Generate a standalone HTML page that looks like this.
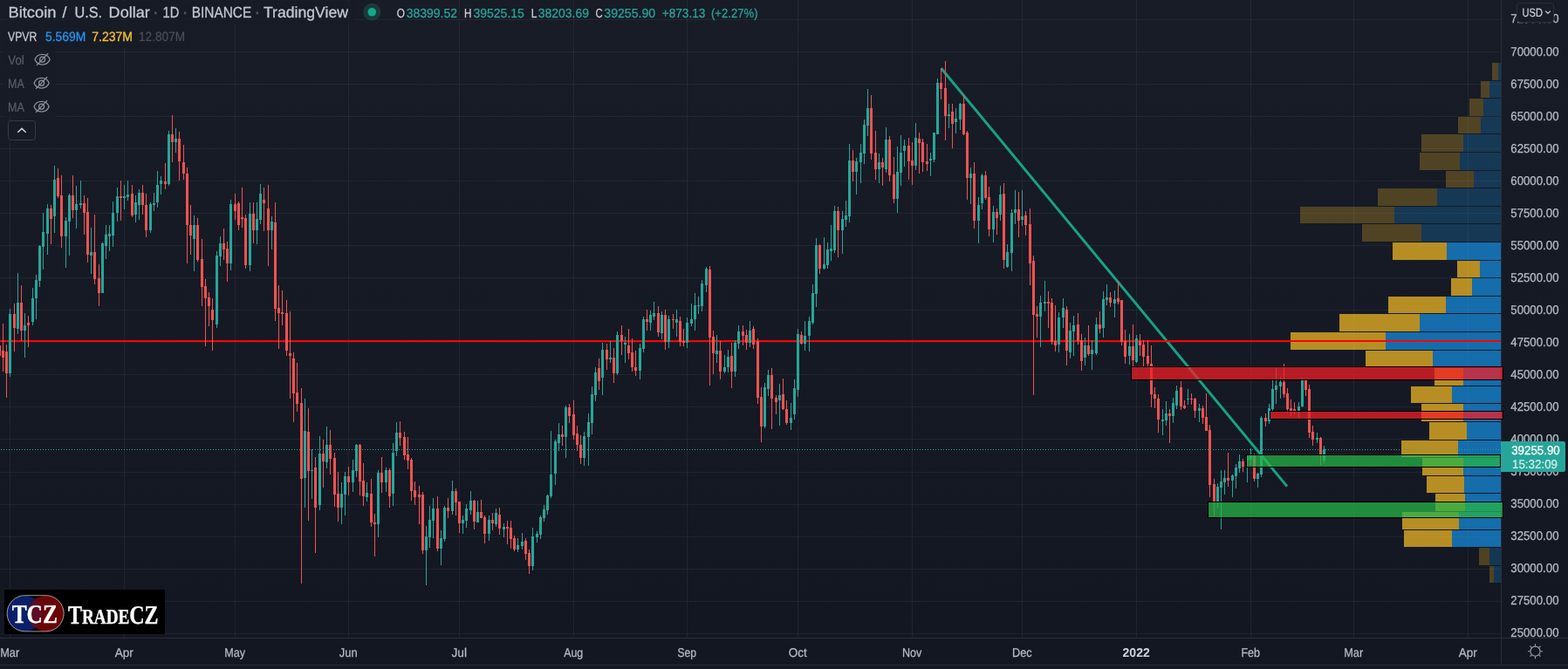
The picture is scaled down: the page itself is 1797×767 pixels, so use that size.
<!DOCTYPE html>
<html lang="en"><head><meta charset="utf-8"><title>Bitcoin / U.S. Dollar · 1D · BINANCE · TradingView</title>
<style>
html,body{margin:0;padding:0;background:#131722;overflow:hidden}
body{width:1797px;height:767px;font-family:"Liberation Sans",sans-serif}
svg{display:block}
</style></head><body>
<svg width="1797" height="767" viewBox="0 0 1797 767" shape-rendering="crispEdges" text-rendering="geometricPrecision">
<defs><linearGradient id="bgg" x1="0" y1="0" x2="0" y2="1"><stop offset="0" stop-color="#181c27"/><stop offset="1" stop-color="#131722"/></linearGradient></defs>
<rect width="1797" height="767" fill="#131722"/>
<rect width="1797" height="732" fill="url(#bgg)"/>
<g fill="#f0f3fa" fill-opacity="0.06"><rect x="11" y="0" width="1" height="731"/><rect x="142" y="0" width="1" height="731"/><rect x="269" y="0" width="1" height="731"/><rect x="399" y="0" width="1" height="731"/><rect x="526" y="0" width="1" height="731"/><rect x="657" y="0" width="1" height="731"/><rect x="787" y="0" width="1" height="731"/><rect x="914" y="0" width="1" height="731"/><rect x="1045" y="0" width="1" height="731"/><rect x="1171" y="0" width="1" height="731"/><rect x="1302" y="0" width="1" height="731"/><rect x="1433" y="0" width="1" height="731"/><rect x="1551" y="0" width="1" height="731"/><rect x="1682" y="0" width="1" height="731"/><rect x="0" y="22" width="1720" height="1"/><rect x="0" y="59" width="1720" height="1"/><rect x="0" y="96" width="1720" height="1"/><rect x="0" y="133" width="1720" height="1"/><rect x="0" y="170" width="1720" height="1"/><rect x="0" y="207" width="1720" height="1"/><rect x="0" y="244" width="1720" height="1"/><rect x="0" y="281" width="1720" height="1"/><rect x="0" y="318" width="1720" height="1"/><rect x="0" y="355" width="1720" height="1"/><rect x="0" y="392" width="1720" height="1"/><rect x="0" y="429" width="1720" height="1"/><rect x="0" y="466" width="1720" height="1"/><rect x="0" y="503" width="1720" height="1"/><rect x="0" y="541" width="1720" height="1"/><rect x="0" y="578" width="1720" height="1"/><rect x="0" y="615" width="1720" height="1"/><rect x="0" y="652" width="1720" height="1"/><rect x="0" y="689" width="1720" height="1"/><rect x="0" y="726" width="1720" height="1"/></g>
<path fill="#fbc123" fill-opacity="0.25" d="M1710 72h7v20h-7zM1697 93h10v19h-10zM1684 113h16v20h-16zM1671 134h26v19h-26zM1629 154h48v20h-48zM1627 175h46v20h-46zM1657 196h32v19h-32zM1579 216h68v20h-68zM1490 237h108v19h-108zM1561 257h68v20h-68zM1695 628h12v20h-12zM1707 649h5v19h-5z"/><path fill="#1592e6" fill-opacity="0.25" d="M1717 72h3v20h-3zM1707 93h13v19h-13zM1700 113h20v20h-20zM1697 134h23v19h-23zM1677 154h43v20h-43zM1673 175h47v20h-47zM1689 196h31v19h-31zM1647 216h73v20h-73zM1598 237h122v19h-122zM1629 257h91v20h-91zM1707 628h13v20h-13zM1712 649h8v19h-8z"/><path fill="#fbc123" fill-opacity="0.7" d="M1596 278h62v20h-62zM1670 299h26v19h-26zM1663 319h24v20h-24zM1591 340h66v19h-66zM1535 360h92v20h-92zM1479 381h109v20h-109zM1565 402h77v19h-77zM1644 422h33v20h-33zM1617 443h47v19h-47zM1629 463h48v20h-48zM1638 484h43v20h-43zM1606 505h65v19h-65zM1630 525h47v20h-47zM1635 546h43v19h-43zM1645 566h34v20h-34zM1607 587h65v20h-65zM1609 608h55v19h-55z"/><path fill="#1592e6" fill-opacity="0.7" d="M1658 278h62v20h-62zM1696 299h24v19h-24zM1687 319h33v20h-33zM1657 340h63v19h-63zM1627 360h93v20h-93zM1588 381h132v20h-132zM1642 402h78v19h-78zM1677 422h43v20h-43zM1664 443h56v19h-56zM1677 463h43v20h-43zM1681 484h39v20h-39zM1671 505h49v19h-49zM1677 525h43v20h-43zM1678 546h42v19h-42zM1679 566h41v20h-41zM1672 587h48v20h-48zM1664 608h56v19h-56z"/>
<line x1="1078.6" y1="78.2" x2="1475.0" y2="557.6" stroke="#17a186" stroke-width="3" shape-rendering="geometricPrecision"/><rect x="0" y="390" width="1720" height="2" fill="#ff0000"/>
<path fill="#ef5350" d="M-1 396h1v12h-1zM3 371h1v55h-1zM7 395h1v61h-1zM16 348h1v55h-1zM24 327h1v64h-1zM32 362h1v36h-1zM58 235h1v45h-1zM66 193h1v34h-1zM70 201h1v83h-1zM83 201h1v49h-1zM96 224h1v45h-1zM100 227h1v74h-1zM108 246h1v80h-1zM113 303h1v48h-1zM138 207h1v46h-1zM151 212h1v37h-1zM163 212h1v34h-1zM167 222h1v50h-1zM189 187h1v30h-1zM197 132h1v54h-1zM205 151h1v56h-1zM210 166h1v40h-1zM214 192h1v110h-1zM218 235h1v57h-1zM226 250h1v50h-1zM231 274h1v77h-1zM235 320h1v77h-1zM239 335h1v39h-1zM243 342h1v60h-1zM256 262h1v36h-1zM260 277h1v46h-1zM269 222h1v30h-1zM273 231h1v33h-1zM277 215h1v46h-1zM281 246h1v62h-1zM290 232h1v47h-1zM302 215h1v50h-1zM307 212h1v93h-1zM315 232h1v136h-1zM319 327h1v73h-1zM323 333h1v40h-1zM328 344h1v64h-1zM332 357h1v100h-1zM336 404h1v80h-1zM340 416h1v56h-1zM345 445h1v224h-1zM353 468h1v129h-1zM361 524h1v110h-1zM370 504h1v55h-1zM378 493h1v51h-1zM383 519h1v62h-1zM387 541h1v57h-1zM399 535h1v33h-1zM412 509h1v59h-1zM416 531h1v49h-1zM425 549h1v55h-1zM429 589h1v49h-1zM437 524h1v41h-1zM446 537h1v45h-1zM458 483h1v28h-1zM463 495h1v32h-1zM467 501h1v37h-1zM471 525h1v49h-1zM475 552h1v27h-1zM480 557h1v44h-1zM484 564h1v71h-1zM501 569h1v63h-1zM513 571h1v23h-1zM522 560h1v31h-1zM526 575h1v36h-1zM543 573h1v34h-1zM551 573h1v21h-1zM555 591h1v32h-1zM564 588h1v20h-1zM572 582h1v31h-1zM581 597h1v27h-1zM585 597h1v32h-1zM589 614h1v18h-1zM602 617h1v25h-1zM606 630h1v28h-1zM644 488h1v23h-1zM652 463h1v22h-1zM657 459h1v45h-1zM661 488h1v29h-1zM665 499h1v33h-1zM686 411h1v36h-1zM695 394h1v30h-1zM703 399h1v40h-1zM712 373h1v34h-1zM720 377h1v35h-1zM724 388h1v38h-1zM728 402h1v29h-1zM741 355h1v24h-1zM754 351h1v35h-1zM762 355h1v46h-1zM771 360h1v17h-1zM779 363h1v34h-1zM783 377h1v20h-1zM813 305h1v137h-1zM817 379h1v50h-1zM825 391h1v44h-1zM838 393h1v52h-1zM851 373h1v23h-1zM855 378h1v23h-1zM863 374h1v26h-1zM868 388h1v75h-1zM872 444h1v63h-1zM884 422h1v70h-1zM889 453h1v22h-1zM897 434h1v36h-1zM901 459h1v28h-1zM918 380h1v15h-1zM939 280h1v34h-1zM960 237h1v58h-1zM977 172h1v36h-1zM998 109h1v74h-1zM1003 150h1v56h-1zM1011 181h1v32h-1zM1019 156h1v52h-1zM1024 180h1v53h-1zM1041 158h1v48h-1zM1045 163h1v49h-1zM1053 152h1v47h-1zM1057 159h1v38h-1zM1062 165h1v31h-1zM1078 78h1v36h-1zM1083 70h1v91h-1zM1091 119h1v51h-1zM1104 109h1v46h-1zM1108 150h1v79h-1zM1116 186h1v76h-1zM1129 196h1v33h-1zM1133 214h1v57h-1zM1142 239h1v30h-1zM1150 210h1v98h-1zM1167 220h1v52h-1zM1175 242h1v28h-1zM1180 239h1v88h-1zM1184 293h1v160h-1zM1188 351h1v36h-1zM1201 334h1v42h-1zM1205 342h1v53h-1zM1209 350h1v53h-1zM1222 351h1v68h-1zM1235 359h1v36h-1zM1239 383h1v42h-1zM1247 373h1v35h-1zM1260 357h1v25h-1zM1272 335h1v17h-1zM1281 323h1v26h-1zM1285 344h1v52h-1zM1289 378h1v39h-1zM1298 372h1v48h-1zM1306 383h1v25h-1zM1310 390h1v30h-1zM1315 390h1v32h-1zM1319 396h1v71h-1zM1323 444h1v24h-1zM1327 452h1v44h-1zM1340 469h1v39h-1zM1353 437h1v33h-1zM1357 459h1v10h-1zM1365 451h1v13h-1zM1369 456h1v23h-1zM1378 465h1v21h-1zM1382 451h1v43h-1zM1386 487h1v83h-1zM1391 549h1v43h-1zM1407 519h1v39h-1zM1424 526h1v15h-1zM1437 520h1v32h-1zM1450 474h1v15h-1zM1471 417h1v39h-1zM1475 445h1v29h-1zM1479 458h1v19h-1zM1483 461h1v14h-1zM1496 435h1v19h-1zM1500 441h1v61h-1zM1504 488h1v23h-1zM1513 501h1v32h-1zM-2 396h3v12h-3zM2 402h3v8h-3zM6 403h3v25h-3zM15 360h3v16h-3zM23 347h3v32h-3zM31 370h3v3h-3zM57 239h3v12h-3zM65 204h3v21h-3zM69 224h3v47h-3zM82 224h3v17h-3zM95 233h3v11h-3zM99 243h3v49h-3zM107 289h3v31h-3zM112 319h3v17h-3zM137 225h3v2h-3zM150 222h3v25h-3zM162 221h3v14h-3zM166 235h3v29h-3zM188 208h3v3h-3zM196 154h3v9h-3zM204 159h3v26h-3zM209 186h3v13h-3zM213 199h3v59h-3zM217 258h3v12h-3zM225 258h3v40h-3zM230 297h3v32h-3zM234 328h3v14h-3zM238 341h3v10h-3zM242 355h3v12h-3zM255 279h3v7h-3zM259 285h3v17h-3zM268 234h3v8h-3zM272 233h3v25h-3zM276 249h3v2h-3zM280 250h3v54h-3zM289 245h3v19h-3zM301 229h3v4h-3zM306 239h3v25h-3zM314 255h3v99h-3zM318 353h3v6h-3zM322 358h3v2h-3zM327 359h3v43h-3zM331 405h3v3h-3zM335 411h3v40h-3zM339 450h3v13h-3zM344 462h3v87h-3zM352 495h3v45h-3zM360 536h3v46h-3zM369 520h3v9h-3zM377 510h3v16h-3zM382 525h3v42h-3zM386 566h3v16h-3zM398 546h3v7h-3zM411 510h3v42h-3zM415 551h3v18h-3zM424 566h3v33h-3zM428 599h3v2h-3zM436 542h3v11h-3zM445 539h3v30h-3zM457 496h3v6h-3zM462 501h3v21h-3zM466 521h3v7h-3zM470 527h3v36h-3zM474 562h3v8h-3zM479 567h3v3h-3zM483 567h3v64h-3zM500 583h3v46h-3zM512 582h3v4h-3zM521 563h3v13h-3zM525 575h3v25h-3zM542 574h3v24h-3zM550 587h3v7h-3zM554 593h3v19h-3zM563 596h3v4h-3zM571 590h3v16h-3zM580 604h3v2h-3zM584 605h3v13h-3zM588 617h3v13h-3zM601 620h3v15h-3zM605 634h3v15h-3zM643 498h3v3h-3zM651 467h3v10h-3zM656 475h3v24h-3zM660 497h3v13h-3zM664 510h3v15h-3zM685 422h3v15h-3zM694 401h3v11h-3zM702 410h3v18h-3zM711 384h3v7h-3zM719 396h3v9h-3zM723 404h3v17h-3zM727 421h3v4h-3zM740 366h3v3h-3zM753 359h3v22h-3zM761 361h3v31h-3zM770 366h3v1h-3zM778 368h3v24h-3zM782 391h3v2h-3zM812 309h3v78h-3zM816 386h3v19h-3zM824 402h3v24h-3zM837 408h3v18h-3zM850 380h3v5h-3zM854 384h3v9h-3zM862 377h3v18h-3zM867 391h3v65h-3zM871 455h3v34h-3zM883 430h3v27h-3zM888 456h3v5h-3zM896 452h3v17h-3zM900 469h3v16h-3zM917 384h3v10h-3zM938 281h3v27h-3zM959 242h3v22h-3zM976 184h3v13h-3zM997 124h3v52h-3zM1002 175h3v19h-3zM1010 186h3v6h-3zM1018 160h3v41h-3zM1023 200h3v28h-3zM1040 167h3v18h-3zM1044 184h3v6h-3zM1052 159h3v5h-3zM1056 163h3v23h-3zM1061 185h3v3h-3zM1077 95h3v7h-3zM1082 101h3v32h-3zM1090 128h3v14h-3zM1103 119h3v35h-3zM1107 152h3v52h-3zM1115 199h3v54h-3zM1128 201h3v26h-3zM1132 226h3v37h-3zM1141 243h3v7h-3zM1149 222h3v76h-3zM1166 240h3v13h-3zM1174 247h3v11h-3zM1179 257h3v45h-3zM1183 299h3v62h-3zM1187 360h3v3h-3zM1200 346h3v2h-3zM1204 347h3v45h-3zM1208 391h3v5h-3zM1221 355h3v47h-3zM1234 372h3v19h-3zM1238 390h3v24h-3zM1246 396h3v10h-3zM1259 372h3v5h-3zM1271 341h3v6h-3zM1280 342h3v4h-3zM1284 344h3v48h-3zM1288 391h3v18h-3zM1297 397h3v16h-3zM1305 391h3v5h-3zM1309 395h3v14h-3zM1314 408h3v9h-3zM1318 417h3v35h-3zM1322 452h3v5h-3zM1326 457h3v24h-3zM1339 474h3v3h-3zM1352 444h3v22h-3zM1356 465h3v3h-3zM1364 457h3v1h-3zM1368 457h3v14h-3zM1377 468h3v11h-3zM1381 478h3v16h-3zM1385 493h3v63h-3zM1390 555h3v20h-3zM1406 548h3v3h-3zM1423 529h3v6h-3zM1436 521h3v28h-3zM1449 479h3v4h-3zM1470 438h3v14h-3zM1474 451h3v18h-3zM1478 468h3v3h-3zM1482 469h3v2h-3zM1495 436h3v11h-3zM1499 446h3v50h-3zM1503 495h3v9h-3zM1512 502h3v20h-3z"/><path fill="#26a69a" d="M11 354h1v78h-1zM20 313h1v70h-1zM28 359h1v51h-1zM37 330h1v43h-1zM41 315h1v51h-1zM45 281h1v48h-1zM49 244h1v65h-1zM54 234h1v58h-1zM62 190h1v77h-1zM75 249h1v58h-1zM79 222h1v71h-1zM87 213h1v49h-1zM92 207h1v32h-1zM104 261h1v53h-1zM117 278h1v58h-1zM121 258h1v39h-1zM125 258h1v30h-1zM129 231h1v52h-1zM134 215h1v39h-1zM142 212h1v28h-1zM146 207h1v23h-1zM155 224h1v31h-1zM159 217h1v35h-1zM172 232h1v35h-1zM176 221h1v21h-1zM180 196h1v42h-1zM184 202h1v21h-1zM193 150h1v63h-1zM201 147h1v28h-1zM222 247h1v64h-1zM248 288h1v88h-1zM252 271h1v34h-1zM264 229h1v81h-1zM286 232h1v79h-1zM294 232h1v48h-1zM298 211h1v46h-1zM311 248h1v38h-1zM349 457h1v125h-1zM357 515h1v57h-1zM366 500h1v85h-1zM374 489h1v48h-1zM391 553h1v48h-1zM395 541h1v50h-1zM404 527h1v37h-1zM408 509h1v38h-1zM420 553h1v22h-1zM433 539h1v77h-1zM442 536h1v28h-1zM450 508h1v72h-1zM454 484h1v39h-1zM488 603h1v68h-1zM492 580h1v48h-1zM496 571h1v46h-1zM505 608h1v40h-1zM509 580h1v41h-1zM518 551h1v39h-1zM530 591h1v21h-1zM534 578h1v27h-1zM539 563h1v27h-1zM547 574h1v25h-1zM560 591h1v29h-1zM568 583h1v21h-1zM577 600h1v16h-1zM593 617h1v16h-1zM598 611h1v19h-1zM610 605h1v49h-1zM615 609h1v13h-1zM619 591h1v27h-1zM623 579h1v19h-1zM627 567h1v23h-1zM631 494h1v77h-1zM636 504h1v52h-1zM640 485h1v32h-1zM648 465h1v60h-1zM669 495h1v39h-1zM674 474h1v60h-1zM678 443h1v55h-1zM682 421h1v39h-1zM690 393h1v60h-1zM699 391h1v25h-1zM707 380h1v50h-1zM716 386h1v30h-1zM733 394h1v41h-1zM737 363h1v41h-1zM745 356h1v23h-1zM749 346h1v21h-1zM758 357h1v32h-1zM766 362h1v37h-1zM775 355h1v31h-1zM787 364h1v35h-1zM792 348h1v26h-1zM796 336h1v43h-1zM800 340h1v20h-1zM804 321h1v36h-1zM809 306h1v29h-1zM821 384h1v32h-1zM830 407h1v21h-1zM834 401h1v26h-1zM842 390h1v42h-1zM846 373h1v27h-1zM859 368h1v30h-1zM876 439h1v52h-1zM880 424h1v30h-1zM893 440h1v48h-1zM906 462h1v31h-1zM910 435h1v46h-1zM914 377h1v78h-1zM922 368h1v34h-1zM927 363h1v40h-1zM931 326h1v46h-1zM935 273h1v79h-1zM944 272h1v37h-1zM948 278h1v30h-1zM952 258h1v41h-1zM956 236h1v54h-1zM965 242h1v49h-1zM969 230h1v30h-1zM973 165h1v90h-1zM981 181h1v42h-1zM986 165h1v45h-1zM990 137h1v51h-1zM994 102h1v54h-1zM1007 176h1v34h-1zM1015 146h1v52h-1zM1028 168h1v76h-1zM1032 155h1v58h-1zM1036 160h1v31h-1zM1049 141h1v54h-1zM1066 175h1v27h-1zM1070 152h1v34h-1zM1074 90h1v64h-1zM1087 119h1v28h-1zM1095 124h1v29h-1zM1100 118h1v31h-1zM1112 192h1v42h-1zM1121 226h1v53h-1zM1125 199h1v41h-1zM1138 236h1v42h-1zM1146 213h1v40h-1zM1154 280h1v27h-1zM1159 240h1v71h-1zM1163 218h1v39h-1zM1171 218h1v41h-1zM1192 339h1v59h-1zM1197 322h1v35h-1zM1213 358h1v46h-1zM1218 342h1v34h-1zM1226 370h1v41h-1zM1230 362h1v46h-1zM1243 387h1v32h-1zM1251 390h1v34h-1zM1256 364h1v43h-1zM1264 334h1v53h-1zM1268 326h1v24h-1zM1277 333h1v31h-1zM1294 383h1v35h-1zM1302 384h1v32h-1zM1332 469h1v30h-1zM1336 460h1v28h-1zM1344 456h1v29h-1zM1348 442h1v27h-1zM1361 446h1v18h-1zM1374 463h1v21h-1zM1395 554h1v28h-1zM1399 539h1v68h-1zM1403 539h1v28h-1zM1412 544h1v26h-1zM1416 532h1v28h-1zM1420 521h1v21h-1zM1429 522h1v31h-1zM1433 514h1v19h-1zM1441 542h1v17h-1zM1445 477h1v70h-1zM1454 463h1v23h-1zM1458 436h1v35h-1zM1462 422h1v41h-1zM1467 432h1v25h-1zM1488 461h1v19h-1zM1492 433h1v34h-1zM1509 496h1v12h-1zM1517 511h1v20h-1zM10 360h3v68h-3zM19 347h3v30h-3zM27 373h3v6h-3zM36 342h3v27h-3zM40 321h3v21h-3zM44 282h3v40h-3zM48 266h3v17h-3zM53 239h3v29h-3zM61 206h3v42h-3zM74 253h3v18h-3zM78 224h3v30h-3zM86 234h3v7h-3zM91 233h3v2h-3zM103 289h3v4h-3zM116 279h3v57h-3zM120 269h3v13h-3zM124 268h3v3h-3zM128 244h3v26h-3zM133 225h3v19h-3zM141 225h3v2h-3zM145 223h3v3h-3zM154 232h3v14h-3zM158 221h3v14h-3zM171 234h3v30h-3zM175 233h3v2h-3zM179 212h3v20h-3zM183 207h3v4h-3zM192 154h3v57h-3zM200 159h3v4h-3zM221 258h3v16h-3zM247 293h3v79h-3zM251 279h3v15h-3zM263 234h3v68h-3zM285 245h3v59h-3zM293 251h3v13h-3zM297 222h3v30h-3zM310 254h3v10h-3zM348 494h3v54h-3zM356 539h3v1h-3zM365 520h3v59h-3zM373 510h3v20h-3zM390 566h3v16h-3zM394 546h3v21h-3zM403 539h3v14h-3zM407 510h3v30h-3zM419 565h3v5h-3zM432 542h3v59h-3zM441 539h3v14h-3zM449 519h3v47h-3zM453 496h3v21h-3zM487 615h3v16h-3zM491 596h3v20h-3zM495 583h3v14h-3zM504 617h3v12h-3zM508 582h3v36h-3zM517 563h3v23h-3zM529 596h3v4h-3zM533 583h3v14h-3zM538 574h3v11h-3zM546 587h3v12h-3zM559 596h3v16h-3zM567 588h3v13h-3zM576 604h3v3h-3zM592 625h3v5h-3zM597 621h3v5h-3zM609 615h3v34h-3zM614 612h3v4h-3zM618 593h3v20h-3zM622 584h3v10h-3zM626 568h3v17h-3zM630 544h3v25h-3zM635 506h3v37h-3zM639 498h3v10h-3zM647 467h3v34h-3zM668 500h3v25h-3zM673 484h3v17h-3zM677 452h3v33h-3zM681 427h3v26h-3zM689 401h3v32h-3zM698 410h3v2h-3zM706 384h3v44h-3zM715 393h3v2h-3zM732 399h3v26h-3zM736 366h3v34h-3zM744 361h3v9h-3zM748 359h3v4h-3zM757 361h3v21h-3zM765 366h3v26h-3zM774 366h3v4h-3zM786 370h3v23h-3zM791 366h3v5h-3zM795 350h3v16h-3zM799 350h3v1h-3zM803 325h3v26h-3zM808 308h3v19h-3zM820 402h3v4h-3zM829 421h3v5h-3zM833 409h3v12h-3zM841 393h3v33h-3zM845 380h3v14h-3zM858 379h3v14h-3zM875 444h3v45h-3zM879 430h3v16h-3zM892 453h3v6h-3zM905 479h3v6h-3zM909 445h3v30h-3zM913 383h3v64h-3zM921 385h3v9h-3zM926 368h3v17h-3zM930 336h3v34h-3zM934 281h3v56h-3zM943 303h3v5h-3zM947 286h3v18h-3zM951 285h3v3h-3zM955 242h3v45h-3zM964 251h3v13h-3zM968 247h3v5h-3zM972 184h3v64h-3zM980 185h3v12h-3zM985 175h3v11h-3zM989 143h3v33h-3zM993 124h3v20h-3zM1006 186h3v8h-3zM1014 160h3v34h-3zM1027 197h3v31h-3zM1031 175h3v23h-3zM1035 167h3v6h-3zM1048 158h3v32h-3zM1065 182h3v2h-3zM1069 152h3v31h-3zM1073 95h3v59h-3zM1086 131h3v2h-3zM1094 136h3v4h-3zM1099 119h3v18h-3zM1111 199h3v5h-3zM1120 235h3v18h-3zM1124 201h3v32h-3zM1137 243h3v20h-3zM1145 223h3v23h-3zM1153 289h3v17h-3zM1158 244h3v46h-3zM1162 240h3v4h-3zM1170 248h3v4h-3zM1191 347h3v16h-3zM1196 346h3v2h-3zM1212 364h3v31h-3zM1217 353h3v11h-3zM1225 379h3v25h-3zM1229 373h3v7h-3zM1242 396h3v14h-3zM1250 401h3v5h-3zM1255 372h3v33h-3zM1263 343h3v33h-3zM1267 341h3v3h-3zM1276 343h3v5h-3zM1293 397h3v11h-3zM1301 388h3v27h-3zM1331 481h3v2h-3zM1335 474h3v8h-3zM1343 462h3v15h-3zM1347 448h3v17h-3zM1360 457h3v1h-3zM1373 468h3v3h-3zM1394 558h3v17h-3zM1398 552h3v7h-3zM1402 548h3v5h-3zM1411 545h3v6h-3zM1415 536h3v10h-3zM1419 529h3v8h-3zM1428 523h3v5h-3zM1432 521h3v6h-3zM1440 543h3v6h-3zM1444 479h3v65h-3zM1453 468h3v15h-3zM1457 446h3v23h-3zM1461 442h3v5h-3zM1466 438h3v5h-3zM1487 466h3v5h-3zM1491 435h3v31h-3zM1508 502h3v2h-3zM1516 515h3v13h-3z"/>
<path stroke="#26a69a" stroke-width="1" stroke-dasharray="1 2" d="M1 515.5H1720" fill="none"/>
<rect x="1721" y="0" width="76" height="732" fill="url(#bgg)"/>
<rect x="0" y="732" width="1797" height="35" fill="#131722"/>
<rect x="1720" y="0" width="1" height="762" fill="#2a2e39"/>
<rect x="0" y="731" width="1797" height="1" fill="#2a2e39"/>
<rect x="0" y="762" width="1797" height="1" fill="#2a2e39"/>
<rect x="1296.5" y="420.5" width="426" height="15" fill="#f41e25" fill-opacity="0.73" stroke="#000" stroke-width="1"/><rect x="1455.5" y="471.5" width="267" height="9" fill="#f41e25" fill-opacity="0.73" stroke="#000" stroke-width="1"/><rect x="1428.5" y="521.5" width="291" height="14" fill="#26b748" fill-opacity="0.73" stroke="#000" stroke-width="1"/><rect x="1384.5" y="575.5" width="338" height="18" fill="#26b748" fill-opacity="0.73" stroke="#000" stroke-width="1"/><text x="1731.3" y="26.4" font-family="'Liberation Sans', sans-serif" font-size="14.2" fill="#b8bbc4" textLength="55.2" lengthAdjust="spacingAndGlyphs" stroke="#b8bbc4" stroke-width="0.25">72500.00</text>
<text x="1731.3" y="63.5" font-family="'Liberation Sans', sans-serif" font-size="14.2" fill="#b8bbc4" textLength="55.2" lengthAdjust="spacingAndGlyphs" stroke="#b8bbc4" stroke-width="0.25">70000.00</text>
<text x="1731.3" y="100.5" font-family="'Liberation Sans', sans-serif" font-size="14.2" fill="#b8bbc4" textLength="55.2" lengthAdjust="spacingAndGlyphs" stroke="#b8bbc4" stroke-width="0.25">67500.00</text>
<text x="1731.3" y="137.6" font-family="'Liberation Sans', sans-serif" font-size="14.2" fill="#b8bbc4" textLength="55.2" lengthAdjust="spacingAndGlyphs" stroke="#b8bbc4" stroke-width="0.25">65000.00</text>
<text x="1731.3" y="174.6" font-family="'Liberation Sans', sans-serif" font-size="14.2" fill="#b8bbc4" textLength="55.2" lengthAdjust="spacingAndGlyphs" stroke="#b8bbc4" stroke-width="0.25">62500.00</text>
<text x="1731.3" y="211.7" font-family="'Liberation Sans', sans-serif" font-size="14.2" fill="#b8bbc4" textLength="55.2" lengthAdjust="spacingAndGlyphs" stroke="#b8bbc4" stroke-width="0.25">60000.00</text>
<text x="1731.3" y="248.7" font-family="'Liberation Sans', sans-serif" font-size="14.2" fill="#b8bbc4" textLength="55.2" lengthAdjust="spacingAndGlyphs" stroke="#b8bbc4" stroke-width="0.25">57500.00</text>
<text x="1731.3" y="285.8" font-family="'Liberation Sans', sans-serif" font-size="14.2" fill="#b8bbc4" textLength="55.2" lengthAdjust="spacingAndGlyphs" stroke="#b8bbc4" stroke-width="0.25">55000.00</text>
<text x="1731.3" y="322.8" font-family="'Liberation Sans', sans-serif" font-size="14.2" fill="#b8bbc4" textLength="55.2" lengthAdjust="spacingAndGlyphs" stroke="#b8bbc4" stroke-width="0.25">52500.00</text>
<text x="1731.3" y="359.9" font-family="'Liberation Sans', sans-serif" font-size="14.2" fill="#b8bbc4" textLength="55.2" lengthAdjust="spacingAndGlyphs" stroke="#b8bbc4" stroke-width="0.25">50000.00</text>
<text x="1731.3" y="396.9" font-family="'Liberation Sans', sans-serif" font-size="14.2" fill="#b8bbc4" textLength="55.2" lengthAdjust="spacingAndGlyphs" stroke="#b8bbc4" stroke-width="0.25">47500.00</text>
<text x="1731.3" y="434.0" font-family="'Liberation Sans', sans-serif" font-size="14.2" fill="#b8bbc4" textLength="55.2" lengthAdjust="spacingAndGlyphs" stroke="#b8bbc4" stroke-width="0.25">45000.00</text>
<text x="1731.3" y="471.0" font-family="'Liberation Sans', sans-serif" font-size="14.2" fill="#b8bbc4" textLength="55.2" lengthAdjust="spacingAndGlyphs" stroke="#b8bbc4" stroke-width="0.25">42500.00</text>
<text x="1731.3" y="508.1" font-family="'Liberation Sans', sans-serif" font-size="14.2" fill="#b8bbc4" textLength="55.2" lengthAdjust="spacingAndGlyphs" stroke="#b8bbc4" stroke-width="0.25">40000.00</text>
<text x="1731.3" y="545.1" font-family="'Liberation Sans', sans-serif" font-size="14.2" fill="#b8bbc4" textLength="55.2" lengthAdjust="spacingAndGlyphs" stroke="#b8bbc4" stroke-width="0.25">37500.00</text>
<text x="1731.3" y="582.2" font-family="'Liberation Sans', sans-serif" font-size="14.2" fill="#b8bbc4" textLength="55.2" lengthAdjust="spacingAndGlyphs" stroke="#b8bbc4" stroke-width="0.25">35000.00</text>
<text x="1731.3" y="619.2" font-family="'Liberation Sans', sans-serif" font-size="14.2" fill="#b8bbc4" textLength="55.2" lengthAdjust="spacingAndGlyphs" stroke="#b8bbc4" stroke-width="0.25">32500.00</text>
<text x="1731.3" y="656.3" font-family="'Liberation Sans', sans-serif" font-size="14.2" fill="#b8bbc4" textLength="55.2" lengthAdjust="spacingAndGlyphs" stroke="#b8bbc4" stroke-width="0.25">30000.00</text>
<text x="1731.3" y="693.3" font-family="'Liberation Sans', sans-serif" font-size="14.2" fill="#b8bbc4" textLength="55.2" lengthAdjust="spacingAndGlyphs" stroke="#b8bbc4" stroke-width="0.25">27500.00</text>
<text x="1731.3" y="730.4" font-family="'Liberation Sans', sans-serif" font-size="14.2" fill="#b8bbc4" textLength="55.2" lengthAdjust="spacingAndGlyphs" stroke="#b8bbc4" stroke-width="0.25">25000.00</text>
<text x="0.2" y="752.8" font-family="'Liberation Sans', sans-serif" font-size="14.2" fill="#b8bbc4" textLength="22" lengthAdjust="spacingAndGlyphs" stroke="#b8bbc4" stroke-width="0.25">Mar</text>
<text x="131.7" y="752.8" font-family="'Liberation Sans', sans-serif" font-size="14.2" fill="#b8bbc4" textLength="21" lengthAdjust="spacingAndGlyphs" stroke="#b8bbc4" stroke-width="0.25">Apr</text>
<text x="257.3" y="752.8" font-family="'Liberation Sans', sans-serif" font-size="14.2" fill="#b8bbc4" textLength="23.8" lengthAdjust="spacingAndGlyphs" stroke="#b8bbc4" stroke-width="0.25">May</text>
<text x="388.8" y="752.8" font-family="'Liberation Sans', sans-serif" font-size="14.2" fill="#b8bbc4" textLength="20.8" lengthAdjust="spacingAndGlyphs" stroke="#b8bbc4" stroke-width="0.25">Jun</text>
<text x="517.5" y="752.8" font-family="'Liberation Sans', sans-serif" font-size="14.2" fill="#b8bbc4" textLength="17.5" lengthAdjust="spacingAndGlyphs" stroke="#b8bbc4" stroke-width="0.25">Jul</text>
<text x="646.2" y="752.8" font-family="'Liberation Sans', sans-serif" font-size="14.2" fill="#b8bbc4" textLength="22" lengthAdjust="spacingAndGlyphs" stroke="#b8bbc4" stroke-width="0.25">Aug</text>
<text x="776.5" y="752.8" font-family="'Liberation Sans', sans-serif" font-size="14.2" fill="#b8bbc4" textLength="21.5" lengthAdjust="spacingAndGlyphs" stroke="#b8bbc4" stroke-width="0.25">Sep</text>
<text x="903.7" y="752.8" font-family="'Liberation Sans', sans-serif" font-size="14.2" fill="#b8bbc4" textLength="21" lengthAdjust="spacingAndGlyphs" stroke="#b8bbc4" stroke-width="0.25">Oct</text>
<text x="1034.0" y="752.8" font-family="'Liberation Sans', sans-serif" font-size="14.2" fill="#b8bbc4" textLength="22.3" lengthAdjust="spacingAndGlyphs" stroke="#b8bbc4" stroke-width="0.25">Nov</text>
<text x="1160.0" y="752.8" font-family="'Liberation Sans', sans-serif" font-size="14.2" fill="#b8bbc4" textLength="22.5" lengthAdjust="spacingAndGlyphs" stroke="#b8bbc4" stroke-width="0.25">Dec</text>
<text x="1286.5" y="752.8" font-family="'Liberation Sans', sans-serif" font-size="14.2" fill="#d1d4dc" textLength="31.3" lengthAdjust="spacingAndGlyphs" font-weight="bold">2022</text>
<text x="1422.4" y="752.8" font-family="'Liberation Sans', sans-serif" font-size="14.2" fill="#b8bbc4" textLength="21.7" lengthAdjust="spacingAndGlyphs" stroke="#b8bbc4" stroke-width="0.25">Feb</text>
<text x="1540.2" y="752.8" font-family="'Liberation Sans', sans-serif" font-size="14.2" fill="#b8bbc4" textLength="22" lengthAdjust="spacingAndGlyphs" stroke="#b8bbc4" stroke-width="0.25">Mar</text>
<text x="1671.7" y="752.8" font-family="'Liberation Sans', sans-serif" font-size="14.2" fill="#b8bbc4" textLength="21" lengthAdjust="spacingAndGlyphs" stroke="#b8bbc4" stroke-width="0.25">Apr</text>
<path d="M1720 506 H1792 a2 2 0 0 1 2 2 V539 a2 2 0 0 1 -2 2 H1720 Z" fill="#26a69a" shape-rendering="geometricPrecision"/>
<text x="1732.2" y="520.8" font-family="'Liberation Sans', sans-serif" font-size="14.2" fill="#ffffff" textLength="55.5" lengthAdjust="spacingAndGlyphs" stroke="#ffffff" stroke-width="0.3">39255.90</text><text x="1733" y="536.7" font-family="'Liberation Sans', sans-serif" font-size="14.2" fill="#d4edeb" textLength="52" lengthAdjust="spacingAndGlyphs" stroke="#d4edeb" stroke-width="0.2">15:32:09</text>
<rect x="1738.5" y="3.5" width="42" height="22" rx="3.5" fill="#181c27" stroke="#2a2e39" shape-rendering="geometricPrecision"/>
<text x="1744.6" y="18.9" font-family="'Liberation Sans', sans-serif" font-size="13.6" fill="#d1d4dc" textLength="23.4" lengthAdjust="spacingAndGlyphs" stroke="#d1d4dc" stroke-width="0.2">USD</text>
<path d="M1771.2 12.6 l2.8 2.8 l2.8 -2.8" fill="none" stroke="#d1d4dc" stroke-width="1.3" shape-rendering="geometricPrecision"/>

<g transform="translate(1759.5,746.7)" fill="none" stroke="#9fa2ab" stroke-width="1.1" shape-rendering="geometricPrecision">
<circle r="5.6"/>
<path d="M0 -6 V-8.5 M0 6 V8.5 M-6 0 H-8.5 M6 0 H8.5 M4.3 4.3 L6 6 M-4.3 4.3 L-6 6 M4.3 -4.3 L6 -6 M-4.3 -4.3 L-6 -6"/>
</g>
<g fill="#181c27" fill-opacity="0.8"><rect x="8" y="1" width="398" height="27"/><rect x="3" y="28" width="215" height="27"/><rect x="3" y="55" width="61" height="81"/></g><text x="9.4" y="20.0" font-family="'Liberation Sans', sans-serif" font-size="17.5" fill="#c4c7d0" textLength="55.1" lengthAdjust="spacingAndGlyphs" stroke="#c4c7d0" stroke-width="0.3">Bitcoin</text><text x="71.4" y="20.0" font-family="'Liberation Sans', sans-serif" font-size="17.5" fill="#c4c7d0" textLength="5" lengthAdjust="spacingAndGlyphs" stroke="#c4c7d0" stroke-width="0.3">/</text><text x="85.4" y="20.0" font-family="'Liberation Sans', sans-serif" font-size="17.5" fill="#c4c7d0" textLength="31.7" lengthAdjust="spacingAndGlyphs" stroke="#c4c7d0" stroke-width="0.3">U.S.</text><text x="124.6" y="20.0" font-family="'Liberation Sans', sans-serif" font-size="17.5" fill="#c4c7d0" textLength="47.2" lengthAdjust="spacingAndGlyphs" stroke="#c4c7d0" stroke-width="0.3">Dollar</text><text x="186.6" y="20.0" font-family="'Liberation Sans', sans-serif" font-size="17.5" fill="#c4c7d0" textLength="18.7" lengthAdjust="spacingAndGlyphs" stroke="#c4c7d0" stroke-width="0.3">1D</text><text x="219.8" y="20.0" font-family="'Liberation Sans', sans-serif" font-size="17.5" fill="#c4c7d0" textLength="68.4" lengthAdjust="spacingAndGlyphs" stroke="#c4c7d0" stroke-width="0.3">BINANCE</text><text x="302" y="20.0" font-family="'Liberation Sans', sans-serif" font-size="17.5" fill="#c4c7d0" textLength="97" lengthAdjust="spacingAndGlyphs" stroke="#c4c7d0" stroke-width="0.3">TradingView</text><text x="173.9" y="22.3" font-family="'Liberation Sans', sans-serif" font-size="26" fill="#50535e">·</text><text x="207.7" y="22.3" font-family="'Liberation Sans', sans-serif" font-size="26" fill="#50535e">·</text><text x="290.4" y="22.3" font-family="'Liberation Sans', sans-serif" font-size="26" fill="#50535e">·</text><circle cx="426.3" cy="13.8" r="10" fill="#1c3a3c" shape-rendering="geometricPrecision"/><circle cx="426.3" cy="13.8" r="4.8" fill="#10a98c" shape-rendering="geometricPrecision"/><text x="454.8" y="20.0" font-family="'Liberation Sans', sans-serif" font-size="14.5" fill="#cdd0d8" textLength="9.2" lengthAdjust="spacingAndGlyphs" stroke="#cdd0d8" stroke-width="0.25">O</text><text x="465.7" y="20.0" font-family="'Liberation Sans', sans-serif" font-size="14.5" fill="#26a69a" textLength="58.4" lengthAdjust="spacingAndGlyphs" stroke="#26a69a" stroke-width="0.25">38399.52</text><text x="532" y="20.0" font-family="'Liberation Sans', sans-serif" font-size="14.5" fill="#cdd0d8" textLength="8.4" lengthAdjust="spacingAndGlyphs" stroke="#cdd0d8" stroke-width="0.25">H</text><text x="542.4" y="20.0" font-family="'Liberation Sans', sans-serif" font-size="14.5" fill="#26a69a" textLength="58.5" lengthAdjust="spacingAndGlyphs" stroke="#26a69a" stroke-width="0.25">39525.15</text><text x="608.8" y="20.0" font-family="'Liberation Sans', sans-serif" font-size="14.5" fill="#cdd0d8" textLength="6.7" lengthAdjust="spacingAndGlyphs" stroke="#cdd0d8" stroke-width="0.25">L</text><text x="616.8" y="20.0" font-family="'Liberation Sans', sans-serif" font-size="14.5" fill="#26a69a" textLength="58.2" lengthAdjust="spacingAndGlyphs" stroke="#26a69a" stroke-width="0.25">38203.69</text><text x="682.5" y="20.0" font-family="'Liberation Sans', sans-serif" font-size="14.5" fill="#cdd0d8" textLength="8.2" lengthAdjust="spacingAndGlyphs" stroke="#cdd0d8" stroke-width="0.25">C</text><text x="692.3" y="20.0" font-family="'Liberation Sans', sans-serif" font-size="14.5" fill="#26a69a" textLength="58.8" lengthAdjust="spacingAndGlyphs" stroke="#26a69a" stroke-width="0.25">39255.90</text><text x="758.7" y="20.0" font-family="'Liberation Sans', sans-serif" font-size="14.5" fill="#26a69a" textLength="49.7" lengthAdjust="spacingAndGlyphs" stroke="#26a69a" stroke-width="0.25">+873.13</text><text x="815" y="20.0" font-family="'Liberation Sans', sans-serif" font-size="14.5" fill="#26a69a" textLength="53.5" lengthAdjust="spacingAndGlyphs" stroke="#26a69a" stroke-width="0.25">(+2.27%)</text><text x="9" y="46.6" font-family="'Liberation Sans', sans-serif" font-size="15" fill="#c4c7d0" textLength="33.3" lengthAdjust="spacingAndGlyphs" stroke="#c4c7d0" stroke-width="0.3">VPVR</text><text x="52" y="46.6" font-family="'Liberation Sans', sans-serif" font-size="15" fill="#2196f3" textLength="46.3" lengthAdjust="spacingAndGlyphs" stroke="#2196f3" stroke-width="0.3">5.569M</text><text x="105.2" y="46.6" font-family="'Liberation Sans', sans-serif" font-size="15" fill="#fbc02d" textLength="46.9" lengthAdjust="spacingAndGlyphs" stroke="#fbc02d" stroke-width="0.3">7.237M</text><text x="159" y="46.6" font-family="'Liberation Sans', sans-serif" font-size="15" fill="#4d4f58" textLength="53.2" lengthAdjust="spacingAndGlyphs" stroke="#4d4f58" stroke-width="0.2">12.807M</text><text x="9.3" y="73.7" font-family="'Liberation Sans', sans-serif" font-size="15" fill="#5a5d68" textLength="18.4" lengthAdjust="spacingAndGlyphs" stroke="#5a5d68" stroke-width="0.2">Vol</text><text x="9" y="100.7" font-family="'Liberation Sans', sans-serif" font-size="15" fill="#5a5d68" textLength="18.7" lengthAdjust="spacingAndGlyphs" stroke="#5a5d68" stroke-width="0.2">MA</text><text x="9" y="127.8" font-family="'Liberation Sans', sans-serif" font-size="15" fill="#5a5d68" textLength="18.9" lengthAdjust="spacingAndGlyphs" stroke="#5a5d68" stroke-width="0.2">MA</text><rect x="9.5" y="138.5" width="31" height="22" rx="3" fill="#171b26" stroke="#363a45" shape-rendering="geometricPrecision"/><path d="M20.3 151.8 l4.7 -4.4 l4.7 4.4" fill="none" stroke="#d1d4dc" stroke-width="1.5" shape-rendering="geometricPrecision"/><g transform="translate(48.6,68)" fill="none" stroke="#8f929b" stroke-width="1.25" shape-rendering="geometricPrecision">
<path d="M-8.6 0.2 C-5.5 -7.6 5.5 -7.6 8.6 0.2 C5.5 8 -5.5 8 -8.6 0.2 Z"/>
<circle r="3" cy="0.2"/>
<path d="M-6.6 6.9 L6.6 -6.9"/></g><g transform="translate(47.6,95)" fill="none" stroke="#8f929b" stroke-width="1.25" shape-rendering="geometricPrecision">
<path d="M-8.6 0.2 C-5.5 -7.6 5.5 -7.6 8.6 0.2 C5.5 8 -5.5 8 -8.6 0.2 Z"/>
<circle r="3" cy="0.2"/>
<path d="M-6.6 6.9 L6.6 -6.9"/></g><g transform="translate(47.6,122)" fill="none" stroke="#8f929b" stroke-width="1.25" shape-rendering="geometricPrecision">
<path d="M-8.6 0.2 C-5.5 -7.6 5.5 -7.6 8.6 0.2 C5.5 8 -5.5 8 -8.6 0.2 Z"/>
<circle r="3" cy="0.2"/>
<path d="M-6.6 6.9 L6.6 -6.9"/></g>
<g shape-rendering="geometricPrecision">
<rect x="5" y="676" width="184" height="51" fill="#000"/>
<circle cx="28.7" cy="703.3" r="20.4" fill="#0a1f6a"/>
<circle cx="52.5" cy="703.3" r="20.4" fill="#6a0506"/>
<path d="M40.6 686.7 A20.4 20.4 0 0 1 40.6 719.9 A20.4 20.4 0 0 1 40.6 686.7 Z" fill="#5d0d22"/>
<rect x="8.1" y="682.7" width="65" height="41.2" rx="20.6" fill="none" stroke="#e8e0d8" stroke-width="0.7"/>
</g>
<text x="13.7" y="714.4" font-family="'Liberation Serif', serif" font-weight="bold" font-size="30" fill="#fff" stroke="#fff" stroke-width="0.35" textLength="52.2" lengthAdjust="spacingAndGlyphs">TCZ</text>
<text x="78" y="715.4" font-family="'Liberation Serif', serif" font-weight="bold" fill="#fff" stroke="#fff" stroke-width="0.35" textLength="103.5" lengthAdjust="spacingAndGlyphs"><tspan font-size="30">T</tspan><tspan font-size="24">RADE</tspan><tspan font-size="30">CZ</tspan></text>

</svg>
</body></html>
